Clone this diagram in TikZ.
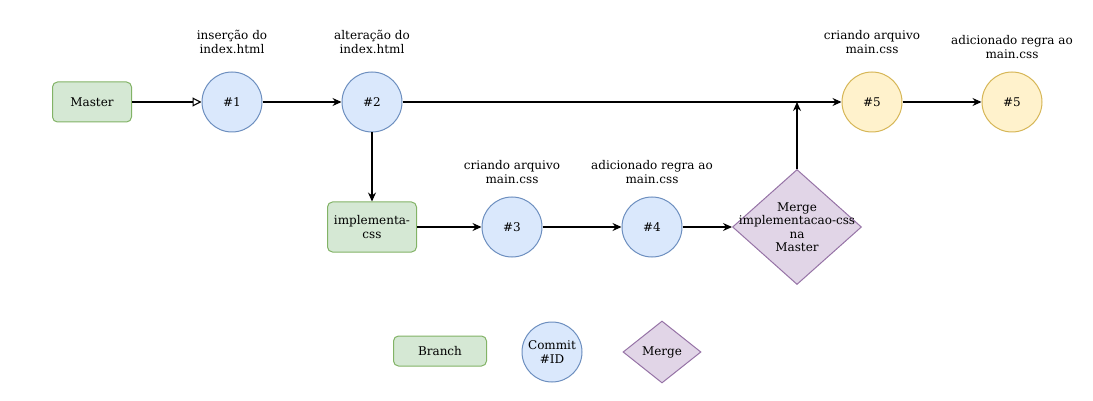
\documentclass[tikz,border=0pt]{standalone}
\usepackage{fontspec}
\setmainfont{DejaVu Serif}
\usetikzlibrary{arrows.meta, shapes.geometric, positioning}

\definecolor{branchfill}{HTML}{D5E8D4}
\definecolor{branchdraw}{HTML}{82B366}
\definecolor{commitfill}{HTML}{DAE8FC}
\definecolor{commitdraw}{HTML}{6C8EBF}
\definecolor{masterfill}{HTML}{FFF2CC}
\definecolor{masterdraw}{HTML}{D6B656}
\definecolor{mergefill}{HTML}{E1D5E7}
\definecolor{mergedraw}{HTML}{9673A6}

\tikzset{
  branchbox/.style={draw=branchdraw, fill=branchfill, rounded corners=5pt,
    line width=1pt, align=center, inner sep=0pt},
  commit/.style={circle, draw=commitdraw, fill=commitfill, line width=1pt,
    minimum size=60pt, inner sep=0pt, align=center},
  newcommit/.style={commit, draw=masterdraw, fill=masterfill},
  mergebox/.style={diamond, draw=mergedraw, fill=mergefill, line width=1pt,
    inner sep=0pt, align=center},
  note/.style={align=center, font=\fontsize{12}{13.5}\selectfont},
  link/.style={-{Stealth[length=9pt,width=8pt]}, line width=1.1pt},
}

\begin{document}
\begin{tikzpicture}[x=1pt, y=-1pt, font=\fontsize{12}{13.5}\selectfont]

\useasboundingbox (0,0) rectangle (1093,401);

% -------------------------------------------------------
% 1. Master line
% -------------------------------------------------------
\node[branchbox, minimum width=79pt, minimum height=40pt] (master) at (92,102) {Master};
\node[commit] (c1) at (232,102) {\#1};
\node[commit] (c2) at (372,102) {\#2};
\node[newcommit] (c5a) at (872,102) {\#5};
\node[newcommit] (c5b) at (1012,102) {\#5};

\node[note] (l1) at (232,42) {inserção do\\index.html};
\node[note] (l2) at (372,42) {alteração do\\index.html};
\node[note] (l5a) at (872,42) {criando arquivo\\main.css};
\node[note] (l5b) at (1012,47) {adicionado regra ao\\main.css};

% -------------------------------------------------------
% 2. Branch implementa-css
% -------------------------------------------------------
\node[branchbox, minimum width=89pt, minimum height=50pt] (impl) at (372,227) {implementa-\\css};
\node[commit] (c3) at (512,227) {\#3};
\node[commit] (c4) at (652,227) {\#4};
\node[mergebox, minimum width=129pt, minimum height=115pt] (merge) at (797,227) {};
\node[note] (mergetxt) at (merge.center) {Merge\\implementacao-css\\na\\Master};

\node[note] (l3) at (512,172) {criando arquivo\\main.css};
\node[note] (l4) at (652,172) {adicionado regra ao\\main.css};

% -------------------------------------------------------
% 3. Connectors
% -------------------------------------------------------
\coordinate (join) at (797,102);

\draw[-{Triangle[open,length=9pt,width=9pt]}, line width=1.1pt] (master) -- (c1);
\draw[link] (c1) -- (c2);
\draw[link] (c2) -- (c5a);
\draw[link] (c5a) -- (c5b);
\draw[link] (c2) -- (impl);
\draw[link] (impl) -- (c3);
\draw[link] (c3) -- (c4);
\draw[link] (c4) -- (merge);
\draw[link] (merge.north) -- (join);

% -------------------------------------------------------
% 4. Legend
% -------------------------------------------------------
\node[branchbox, minimum width=93pt, minimum height=30pt] (legbranch) at (440,351) {Branch};
\node[commit] (legcommit) at (552,352) {Commit\\\#ID};
\node[mergebox, minimum width=78pt, minimum height=62pt] (legmerge) at (662,352) {Merge};

\end{tikzpicture}
\end{document}
